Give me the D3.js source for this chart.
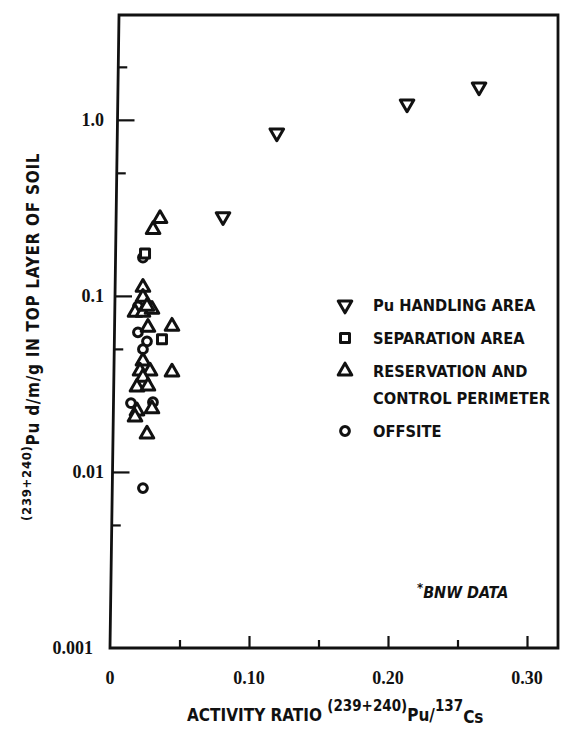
<!DOCTYPE html>
<html>
<head>
<meta charset="utf-8">
<script src="https://cdn.jsdelivr.net/npm/d3@7"></script>
<style>
	body { margin: 0; background: #fff; }
	svg { display: block; }
	.lbl { font-family: "DejaVu Sans Condensed", "DejaVu Sans", sans-serif; font-weight: bold; fill: #111; }
	.tick-lbl { font-family: "Liberation Serif", serif; font-weight: bold; fill: #111; font-size: 18px; }
</style>
</head>
<body>
<svg id="chart" width="585" height="733"></svg>
<script>
// values: [activity ratio, Pu d/m/g]
const puHandling = [[0.0813, 0.282], [0.120, 0.844], [0.2137, 1.232], [0.2655, 1.538]];
const separation = [[0.0252, 0.174], [0.0374, 0.0567]];
const reservation = [
	[0.036, 0.275], [0.031, 0.238], [0.0237, 0.1117], [0.0237, 0.098],
	[0.018, 0.0806], [0.0237, 0.0806], [0.0302, 0.0839], [0.0266, 0.0872],
	[0.0273, 0.0663], [0.0446, 0.0672], [0.0237, 0.0426], [0.0216, 0.0374],
	[0.0288, 0.0374], [0.0446, 0.0369], [0.0237, 0.0345], [0.0194, 0.0303],
	[0.0273, 0.0307], [0.0194, 0.0222], [0.0302, 0.0228], [0.018, 0.0205],
	[0.0266, 0.0164]
];
const offsite = [
	[0.0237, 0.165], [0.0201, 0.0872], [0.0201, 0.0621], [0.0266, 0.0552],
	[0.0237, 0.0498], [0.0151, 0.0246], [0.0309, 0.0249], [0.0237, 0.0081]
];

const xMajor = [0, 0.10, 0.20, 0.30];
const xMinor = [0.05, 0.15, 0.25];
const xTickLabels = ["0", "0.10", "0.20", "0.30"];
const yMajor = [0.001, 0.01, 0.1, 1.0];
const yMinor = [0.005, 0.05, 0.5, 2];
const yTickLabels = ["0.001", "0.01", "0.1", "1.0"];

const legendItems = [
	{shape: "down", lines: ["Pu HANDLING AREA"]},
	{shape: "square", lines: ["SEPARATION AREA"]},
	{shape: "up", lines: ["RESERVATION AND", "CONTROL PERIMETER"]},
	{shape: "circle", lines: ["OFFSITE"]}
];

const svg = d3.select("#chart");
const plotLeft = 110, plotRight = 558, plotTop = 15, plotBottom = 648;
const lean = 9; // the scanned left axis leans to the right towards the top

const x = d3.scaleLinear().domain([0, 0.3223]).range([plotLeft, plotRight]);
const y = d3.scaleLog().domain([0.001, 3.94]).range([plotBottom, plotTop]);
const leftLineAt = py => lean * (plotBottom - py) / (plotBottom - plotTop);

// frame
svg.append("path")
	.attr("d", `M${plotLeft},${plotBottom} L${plotLeft + lean},${plotTop} L${plotRight},${plotTop} L${plotRight},${plotBottom} Z`)
	.attr("fill", "none").attr("stroke", "#111").attr("stroke-width", 2.8);

// x ticks (pointing up, inside)
svg.append("g").attr("transform", `translate(0,${plotBottom})`)
	.call(d3.axisTop(x).tickValues(xMajor.slice(1)).tickSize(12).tickFormat(""))
	.call(g => g.select(".domain").remove())
	.call(g => g.selectAll("line").attr("stroke", "#111").attr("stroke-width", 2.2));
svg.append("g").attr("transform", `translate(0,${plotBottom})`)
	.call(d3.axisTop(x).tickValues(xMinor).tickSize(8).tickFormat(""))
	.call(g => g.select(".domain").remove())
	.call(g => g.selectAll("line").attr("stroke", "#111").attr("stroke-width", 2.2));

svg.selectAll(".xlab").data(xMajor).join("text")
	.attr("class", "tick-lbl")
	.attr("x", d => x(d)).attr("y", 684)
	.attr("text-anchor", "middle")
	.text((d, i) => xTickLabels[i]);

// y ticks (pointing right, inside), starting on the leaning axis line
function yTicks(values, size) {
	svg.append("g").attr("transform", `translate(${plotLeft},0)`)
		.call(d3.axisRight(y).tickValues(values).tickSize(size).tickFormat(""))
		.call(g => g.select(".domain").remove())
		.call(g => g.selectAll("line")
			.attr("x1", d => leftLineAt(y(d)))
			.attr("x2", d => leftLineAt(y(d)) + size)
			.attr("stroke", "#111").attr("stroke-width", 2.2));
}
yTicks(yMajor.slice(1), 17);
yTicks(yMinor, 9);

svg.selectAll(".ylab").data(yMajor).join("text")
	.attr("class", "tick-lbl")
	.attr("x", (d, i) => i === 0 ? 93 : 104).attr("y", d => y(d) + 6)
	.attr("text-anchor", "end")
	.text((d, i) => yTickLabels[i]);

// marker shapes
const triSize = 80;
const markers = {
	down: (sel) => sel.append("path").attr("d", d3.symbol(d3.symbolTriangle, triSize)()).attr("transform", "rotate(180)"),
	up: (sel) => sel.append("path").attr("d", d3.symbol(d3.symbolTriangle, triSize)()),
	square: (sel) => sel.append("rect").attr("x", -4.5).attr("y", -4.5).attr("width", 9).attr("height", 9),
	circle: (sel) => sel.append("circle").attr("r", 4.4)
};

function drawSeries(data, shape) {
	const g = svg.append("g").selectAll("g").data(data).join("g")
		.attr("transform", d => `translate(${x(d[0])},${y(d[1])})`);
	g.each(function() {
		markers[shape](d3.select(this))
			.attr("fill", "#fff").attr("stroke", "#111").attr("stroke-width", 3)
			.attr("stroke-linejoin", "round");
	});
}

drawSeries(offsite, "circle");
drawSeries(separation, "square");
drawSeries(reservation, "up");
drawSeries(puHandling, "down");

// legend
const legend = svg.append("g").attr("transform", "translate(345,305)");
let ly = 0;
legendItems.forEach(item => {
	const row = legend.append("g").attr("transform", `translate(0,${ly})`);
	markers[item.shape](row).attr("fill", "#fff").attr("stroke", "#111").attr("stroke-width", 3)
		.attr("stroke-linejoin", "round");
	item.lines.forEach((t, i) => {
		row.append("text").attr("class", "lbl").attr("font-size", 16.3)
			.attr("x", 28).attr("y", 6 + i * 27).text(t);
	});
	ly += item.lines.length === 2 ? 60 : 33;
});

// note
svg.append("text").attr("class", "lbl").attr("font-size", 16).attr("font-style", "italic")
	.attr("x", 417).attr("y", 598)
	.call(t => t.append("tspan").attr("dy", -6).attr("font-size", 13).text("*"))
	.call(t => t.append("tspan").attr("dy", 6).text("BNW DATA"));

// x axis title
const xt = svg.append("text").attr("class", "lbl").attr("font-size", 17).attr("x", 187).attr("y", 721);
xt.append("tspan").text("ACTIVITY RATIO ");
xt.append("tspan").attr("font-size", 15).attr("dy", -10).text("(239+240)");
xt.append("tspan").attr("dy", 10).text("Pu/");
xt.append("tspan").attr("font-size", 15).attr("dy", -10).text("137");
xt.append("tspan").attr("dy", 12).text("Cs");

// y axis title
const yt = svg.append("text").attr("class", "lbl").attr("font-size", 17)
	.attr("letter-spacing", 0.7)
	.attr("transform", "translate(39,521) rotate(-90)");
yt.append("tspan").attr("font-size", 13).attr("dy", -8).text("(239+240)");
yt.append("tspan").attr("dy", 8).text("Pu d/m/g IN TOP LAYER OF SOIL");
</script>
</body>
</html>
